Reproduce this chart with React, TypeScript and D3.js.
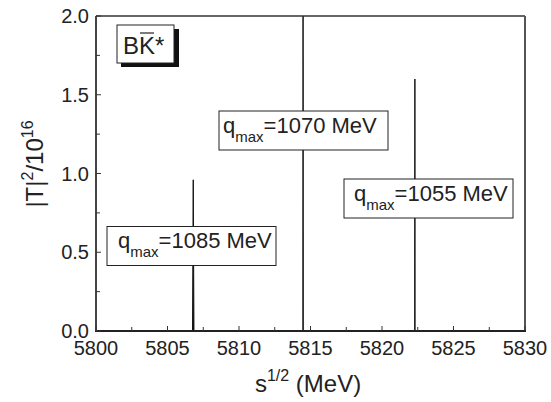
import React from "react";
import { scaleLinear, line, range } from "d3";

// resonance spikes: position (MeV), peak height (|T|^2/1e16), half width (MeV)
const peakPos = [5806.8, 5814.48, 5822.3];
const peakHeight = [0.96, 2.2, 1.6];
const peakHalfWidth = [0.05, 0.01, 0.01];

const xTicks = [5800, 5805, 5810, 5815, 5820, 5825, 5830];
const yTicks = [0.0, 0.5, 1.0, 1.5, 2.0];

const qmaxLabels = ["1085", "1070", "1055"];

const W = 551;
const H = 402;
const margin = { top: 16, right: 26, bottom: 71, left: 96 };
const font = "'Liberation Sans', Arial, sans-serif";

function QBox({ x, y, pad, value }: { x: number; y: number; pad: number; value: string }) {
  const w = 169;
  const h = 39;
  return (
    <g transform={`translate(${x},${y})`}>
      <rect width={w} height={h} fill="#fff" stroke="#222" strokeWidth={1} />
      <text x={pad} y={21.5} fontSize={22} fill="#222">
        <tspan>q</tspan>
        <tspan fontSize={15} dy={9}>max</tspan>
        <tspan dy={-9}>{`=${value} MeV`}</tspan>
      </text>
    </g>
  );
}

export default function App() {
  const x = scaleLinear().domain([5800, 5830]).range([margin.left, W - margin.right]);
  const y = scaleLinear().domain([0, 2]).range([H - margin.bottom, margin.top]);

  const minorX = range(5802.5, 5830, 5);
  const minorY = range(0.25, 2, 0.5);

  const spike = line<[number, number]>()
    .x((d) => x(d[0]))
    .y((d) => y(d[1]));

  const x0 = margin.left;
  const x1 = W - margin.right;
  const y0 = H - margin.bottom;
  const y1 = margin.top;

  return (
    <svg
      width={W}
      height={H}
      style={{ position: "absolute", left: 0, top: 0, background: "#fff" }}
      fontFamily={font}
    >
      <defs>
        <clipPath id="plot">
          <rect x={x0} y={y1} width={x1 - x0} height={y0 - y1} />
        </clipPath>
      </defs>

      {/* spikes */}
      <g clipPath="url(#plot)">
        {peakPos.map((p, i) => (
          <path
            key={i}
            d={
              spike([
                [p - peakHalfWidth[i], 0],
                [p, peakHeight[i]],
                [p + peakHalfWidth[i], 0],
              ]) ?? ""
            }
            fill="#111"
            stroke="#111"
            strokeWidth={1}
          />
        ))}
      </g>

      {/* frame */}
      <line x1={x0} x2={x1} y1={y1} y2={y1} stroke="#333" strokeWidth={1.5} />
      <line x1={x1} x2={x1} y1={y1} y2={y0} stroke="#555" strokeWidth={2} />
      <line x1={x0 - 1} x2={x1 + 1} y1={y0} y2={y0} stroke="#222" strokeWidth={2} />
      <line x1={x0} x2={x0} y1={y1} y2={y0} stroke="#444" strokeWidth={2} />

      {/* x ticks */}
      {xTicks.map((t) => (
        <g key={t}>
          <line x1={x(t)} x2={x(t)} y1={y0} y2={y0 - 5} stroke="#333" strokeWidth={1} />
          <text x={x(t)} y={355} textAnchor="middle" fontSize={20} fill="#222">
            {t}
          </text>
        </g>
      ))}
      {minorX.map((t) => (
        <line key={t} x1={x(t)} x2={x(t)} y1={y0} y2={y0 - 4} stroke="#333" strokeWidth={1} />
      ))}

      {/* y ticks */}
      {yTicks.map((t) => (
        <g key={t}>
          <line x1={x0} x2={x0 + 5} y1={y(t)} y2={y(t)} stroke="#333" strokeWidth={1} />
          <text x={89} y={y(t) + 7} textAnchor="end" fontSize={20} fill="#222">
            {t.toFixed(1)}
          </text>
        </g>
      ))}
      {minorY.map((t) => (
        <line key={t} x1={x0} x2={x0 + 4} y1={y(t)} y2={y(t)} stroke="#333" strokeWidth={1} />
      ))}

      {/* axis titles */}
      <text
        transform="translate(43,164) rotate(-90)"
        textAnchor="middle"
        fontSize={24}
        fill="#222"
      >
        <tspan>|T|</tspan>
        <tspan fontSize={16} dy={-10}>2</tspan>
        <tspan dy={10}>/10</tspan>
        <tspan fontSize={16} dy={-10}>16</tspan>
      </text>
      <text x={308} y={392} textAnchor="middle" fontSize={24} fill="#222">
        <tspan>s</tspan>
        <tspan fontSize={16} dy={-11}>1/2</tspan>
        <tspan dy={11}> (MeV)</tspan>
      </text>

      {/* B K-bar* label */}
      <rect x={121} y={29} width={58} height={38} fill="#111" />
      <rect x={117} y={25} width={57} height={38} fill="#fff" stroke="#222" strokeWidth={1} />
      <text x={123} y={54} fontSize={24} fill="#222">
        BK*
      </text>
      <line x1={140} x2={154} y1={33} y2={33} stroke="#222" strokeWidth={1.2} />

      {/* qmax annotations */}
      <QBox x={107} y={226.5} pad={11} value={qmaxLabels[0]} />
      <QBox x={219} y={111} pad={4} value={qmaxLabels[1]} />
      <QBox x={344} y={179} pad={10} value={qmaxLabels[2]} />
    </svg>
  );
}
